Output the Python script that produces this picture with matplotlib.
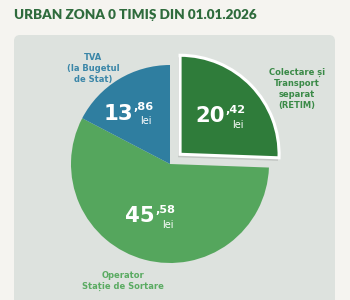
import matplotlib
matplotlib.use("Agg")
import matplotlib.pyplot as plt
from matplotlib.patches import FancyBboxPatch, Wedge

title = "URBAN ZONA 0 TIMIȘ DIN 01.01.2026"
categories = ["Colectare și\nTransport\nseparat\n(RETIM)", "Operator\nStație de Sortare", "TVA\n(la Bugetul\nde Stat)"]
values = [20.42, 45.58, 13.86]
int_parts = ["20", "45", "13"]
dec_parts = [",42", ",58", ",86"]
colors = ["#2f7c3a", "#55a65d", "#2f7ea0"]
label_colors = ["#3a8a47", "#5aab62", "#3a86a8"]

W, H = 350, 300
fig = plt.figure(figsize=(3.5, 3.0), dpi=100)
fig.patch.set_facecolor("#f5f4f0")
ax = fig.add_axes([0, 0, 1, 1])
ax.set_xlim(0, W)
ax.set_ylim(0, H)
ax.set_aspect("equal")
ax.axis("off")

NUMF = "DejaVu Sans"

# panel
ax.add_patch(FancyBboxPatch((14, -20), 321, 285, boxstyle="round,pad=0,rounding_size=6",
                            facecolor="#dde2de", edgecolor="none", zorder=0))

ax.text(14, H - 15, title, fontsize=9.7, fontweight="heavy", color="#2e6b3c",
        family="Lato", va="center", ha="left")

cx, cy, R = 170, H - 164, 99
explode = [14, 0, 0]
wedges, _ = ax.pie(values, startangle=90, counterclock=False, center=(cx, cy), radius=R,
                   explode=explode, colors=colors, frame=True,
                   wedgeprops=dict(linewidth=0))
ax.set_xlim(0, W)
ax.set_ylim(0, H)
ax.axis("off")

# exploded wedge styling: white border and shadow
w0 = wedges[0]
w0.set_edgecolor("white")
w0.set_linewidth(2.2)
w0.set_zorder(3)
sh = Wedge((w0.center[0] - 2, w0.center[1] - 3), w0.r + 1, w0.theta1, w0.theta2,
           facecolor="#000000", alpha=0.12, edgecolor="none", zorder=2.5)
ax.add_patch(sh)

# value labels (x = right edge of integer part, y = centre)
val_pos = [(225, H - 114.5), (155, H - 214.5), (133, H - 111.5)]
for (x, y), ip, dp in zip(val_pos, int_parts, dec_parts):
    ax.text(x, y, ip, fontsize=15.3, fontweight="heavy", color="white", family=NUMF,
            ha="right", va="center_baseline", zorder=5)
    ax.text(x + 0.5, y + 5.5, dp, fontsize=8.1, fontweight="heavy", color="white", family=NUMF,
            ha="left", va="center_baseline", zorder=5)
    ax.text(x + 12.5, y - 9, "lei", fontsize=7, color="white", family=NUMF,
            ha="center", va="center_baseline", zorder=5)

# category labels
lab_pos = [(297, H - 89), (123, H - 281), (93, H - 68.5)]
for (x, y), lab, c in zip(lab_pos, categories, label_colors):
    ax.text(x, y, lab, fontsize=6.0, fontweight="bold", color=c, family="DejaVu Sans",
            ha="center", va="center", linespacing=1.25, zorder=5)

fig.savefig("out.png", dpi=100, facecolor=fig.get_facecolor())
